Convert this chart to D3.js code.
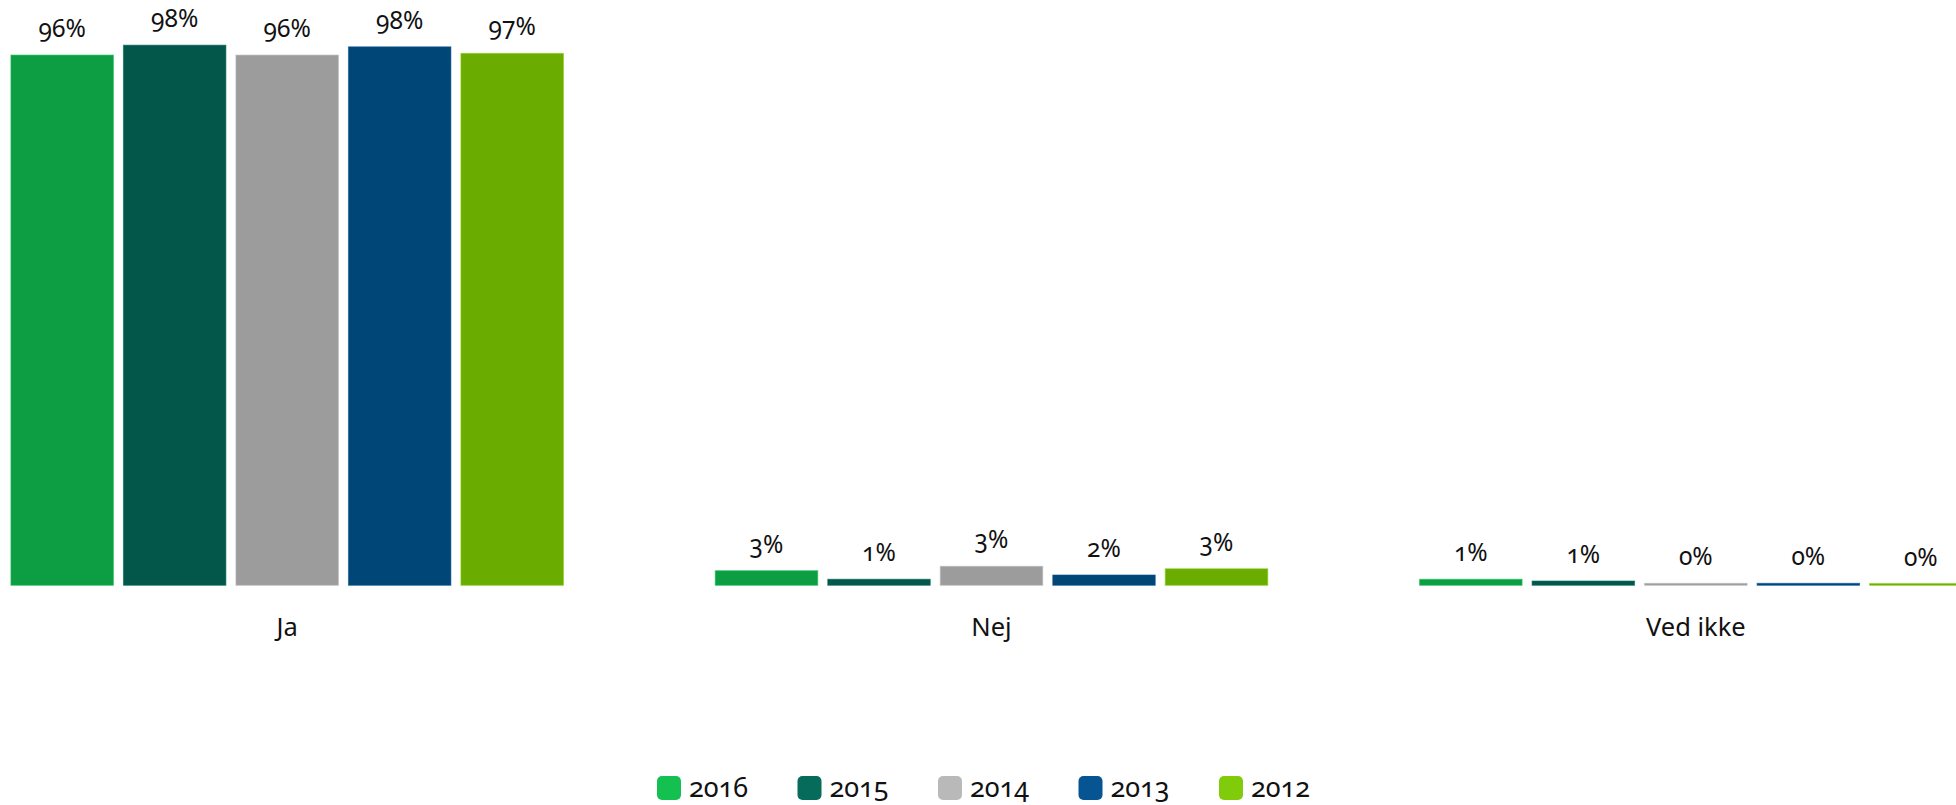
<!DOCTYPE html>
<meta charset="utf-8">
<style>

body {
  margin: 0;
  background: #fff;
}

svg {
  display: block;
  font-family: "Noto Sans", sans-serif;
  font-variant-numeric: oldstyle-nums;
}

.value {
  font-size: 24.5px;
  fill: #111;
  text-anchor: middle;
}

.category {
  font-size: 25.5px;
  fill: #111;
  text-anchor: middle;
}

.legend text {
  font-size: 27px;
  fill: #111;
}

</style>
<svg width="1956" height="805"></svg>
<script src="https://cdn.jsdelivr.net/npm/d3@7"></script>
<script>

// answers along the x axis, one group each
var categories = ["Ja", "Nej", "Ved ikke"];

// survey years, in the order the bars appear in a group
var years = ["2016", "2015", "2014", "2013", "2012"];

// share per year (%)
var ja      = [96.3, 98.1, 96.3, 97.8, 96.6];
var nej     = [2.65, 1.1, 3.45, 1.87, 3.0];
var vedIkke = [1.09, 0.78, 0.36, 0.36, 0.31];

var barColors    = ["#0d9e44", "#02564a", "#9c9c9c", "#004677", "#6aad00"];
var legendColors = ["#14c050", "#066b5a", "#b9b9b9", "#065592", "#80cc0a"];

var series = [ja, nej, vedIkke];

var data = categories.map(function(c, i) {
  return {
    category: c,
    values: years.map(function(y, j) {
      return {year: y, value: series[i][j]};
    })
  };
});

var svg = d3.select("svg");

// the plot area runs a bit past both edges of the picture
var x0 = d3.scaleBand()
    .domain(categories)
    .range([-65, 2048]);

var groupWidth = 552.5,
    groupOffset = (x0.bandwidth() - groupWidth) / 2;

var x1 = d3.scaleBand()
    .domain(years)
    .range([0, groupWidth])
    .paddingInner(0.089);

var y = d3.scaleLinear()
    .domain([0, 100])
    .range([585.3, 34.7]);

var color = d3.scaleOrdinal().domain(years).range(barColors);
var edge = d3.scaleOrdinal().domain(years).range(legendColors);

var group = svg.selectAll(".group")
  .data(data)
  .enter().append("g")
    .attr("class", "group")
    .attr("transform", function(d) { return "translate(" + (x0(d.category) + groupOffset) + ",0)"; });

group.selectAll("rect")
    .data(function(d) { return d.values; })
  .enter().append("rect")
    .attr("x", function(d) { return x1(d.year); })
    .attr("y", function(d) { return y(d.value); })
    .attr("width", x1.bandwidth())
    .attr("height", function(d) { return y(0) - y(d.value); })
    .attr("fill", function(d) { return color(d.year); })
    .attr("stroke", function(d) { return edge(d.year); })
    .attr("stroke-opacity", 0.6)
    .attr("stroke-width", 1);

group.selectAll(".value")
    .data(function(d) { return d.values; })
  .enter().append("text")
    .attr("class", "value")
    .attr("x", function(d) { return x1(d.year) + x1.bandwidth() / 2; })
    .attr("y", function(d) { return y(d.value) - 18; })
    .text(function(d) { return Math.round(d.value) + "%"; });

group.append("text")
    .attr("class", "category")
    .attr("x", groupWidth / 2)
    .attr("y", 636)
    .text(function(d) { return d.category; });

// legend
var legendX = d3.scalePoint()
    .domain(years)
    .range([657, 1219]);

var legend = svg.append("g")
    .attr("class", "legend")
  .selectAll("g")
  .data(years)
  .enter().append("g")
    .attr("transform", function(d) { return "translate(" + legendX(d) + ",776)"; });

legend.append("rect")
    .attr("width", 24)
    .attr("height", 24)
    .attr("rx", 5)
    .attr("fill", function(d, i) { return legendColors[i]; });

legend.append("text")
    .attr("x", 32)
    .attr("y", 21)
    .text(function(d) { return d; });

</script>
